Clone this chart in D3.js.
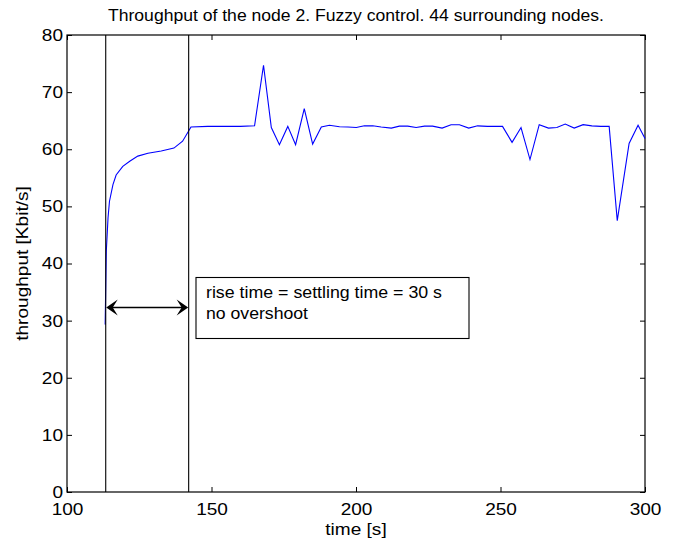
<!DOCTYPE html>
<html><head><meta charset="utf-8">
<script src="https://cdn.jsdelivr.net/npm/d3@7"></script>
<style>body{margin:0;background:#fff}svg{display:block}text{font-family:"Liberation Sans",Arial,sans-serif}</style>
</head><body><svg id="c" width="676" height="543"></svg>
<script>
const title = "Throughput of the node 2. Fuzzy control. 44 surrounding nodes.";
const xLabel = "time [s]";
const yLabel = "throughput [Kbit/s]";
const xTicks = [100, 150, 200, 250, 300];
const yTicks = [0, 10, 20, 30, 40, 50, 60, 70, 80];
const time = [113.2,113.6,114.2,114.7,115.9,117.0,119.3,121.7,124.5,128.0,132.6,137.0,140.0,142.9,148.7,154.0,160.0,164.9,168.0,170.7,173.5,176.4,179.1,182.1,185.0,188.0,190.8,194.3,197.2,200.1,202.9,205.8,208.7,212.2,215.0,217.9,220.8,223.7,226.5,229.8,232.9,235.8,239.0,242.1,245.5,248.0,250.7,254.0,257.1,260.2,263.4,266.6,269.5,272.4,275.5,278.6,281.6,284.7,287.6,290.4,294.5,297.6,300.0];
const throughput = [29.3,42.2,48.0,50.9,53.8,55.5,57.0,57.9,58.8,59.3,59.7,60.2,61.4,63.9,64.0,64.0,64.0,64.1,74.7,63.8,60.8,64.0,60.8,67.1,60.9,63.9,64.2,63.95,63.9,63.8,64.1,64.1,63.9,63.7,64.05,64.05,63.8,64.05,64.05,63.7,64.3,64.3,63.7,64.1,64.0,64.0,64.0,61.2,63.8,58.2,64.3,63.7,63.8,64.4,63.7,64.3,64.1,64.0,64.0,47.5,61.0,64.2,61.9];
const markerTimes = [113.4, 142.1];
const arrowLevel = 32.3;
const noteLines = ["rise time = settling time = 30 s", "no overshoot"];

const svg = d3.select("#c");
const L = 67, R = 645, T = 35, B = 492;
const x = d3.scaleLinear().domain([100, 300]).range([L, R]);
const y = d3.scaleLinear().domain([0, 80]).range([B, T]);
const fs = 17;
const stretch = 1.12;
const FF = '"Liberation Sans",Arial,sans-serif';

// box
svg.append("rect").attr("x", L).attr("y", T).attr("width", R - L).attr("height", B - T)
  .attr("fill", "none").attr("stroke", "#000").attr("stroke-width", 1.2);

// axes
const ax = (g, axis) => { g.call(axis); g.select(".domain").remove(); g.selectAll("line").attr("stroke", "#000"); g.selectAll("text").attr("font-size", fs).attr("fill", "#000").attr("font-family", FF).classed("st", true); };
svg.append("g").attr("transform", `translate(0,${B})`).call(g => ax(g, d3.axisBottom(x).tickValues(xTicks).tickFormat(d3.format("d")).tickSizeInner(-5).tickPadding(11)));
svg.append("g").attr("transform", `translate(0,${T})`).call(g => { ax(g, d3.axisTop(x).tickValues(xTicks).tickSizeInner(-5)); g.selectAll("text").remove(); });
svg.append("g").attr("transform", `translate(${L},0)`).call(g => ax(g, d3.axisLeft(y).tickValues(yTicks).tickFormat(d3.format("d")).tickSizeInner(-5).tickPadding(4)));
svg.append("g").attr("transform", `translate(${R},0)`).call(g => { ax(g, d3.axisRight(y).tickValues(yTicks).tickSizeInner(-5)); g.selectAll("text").remove(); });

// labels
svg.append("text").attr("x", (L + R) / 2).attr("y", 21).attr("text-anchor", "middle").attr("font-size", 16)
  .attr("textLength", 496).attr("lengthAdjust", "spacingAndGlyphs").text(title);
svg.append("text").attr("class", "st").attr("x", (L + R) / 2).attr("y", 535).attr("text-anchor", "middle").attr("font-size", fs).text(xLabel);
svg.append("text").attr("class", "st").attr("transform", `translate(28,${(T + B) / 2}) rotate(-90)`).attr("text-anchor", "middle").attr("font-size", fs).text(yLabel);

// data line
const data = time.map((t, i) => [t, throughput[i]]);
svg.append("path").datum(data).attr("fill", "none").attr("stroke", "#0000ff").attr("stroke-width", 1.1)
  .attr("d", d3.line().x(d => x(d[0])).y(d => y(d[1])));

// marker lines
svg.selectAll(".mk").data(markerTimes).join("line").attr("class", "mk")
  .attr("x1", d => x(d)).attr("x2", d => x(d)).attr("y1", y(80)).attr("y2", y(0))
  .attr("stroke", "#000").attr("stroke-width", 1.1);

// double arrow
const ay = y(arrowLevel), x0 = x(markerTimes[0]), x1 = x(markerTimes[1]);
svg.append("line").attr("x1", x0 + 6).attr("x2", x1 - 6).attr("y1", ay).attr("y2", ay).attr("stroke", "#000").attr("stroke-width", 1.3);
const head = (tip, dir) => {
  const len = 11.5, hw = 8, notch = 6.5;
  return `M${tip},${ay} L${tip + dir * len},${ay - hw} L${tip + dir * notch},${ay} L${tip + dir * len},${ay + hw} Z`;
};
svg.append("path").attr("d", head(x0 + 0.5, 1)).attr("fill", "#000");
svg.append("path").attr("d", head(x1 - 0.5, -1)).attr("fill", "#000");

// note box
svg.append("rect").attr("x", 196).attr("y", 277.5).attr("width", 273).attr("height", 61)
  .attr("fill", "#fff").attr("stroke", "#000").attr("stroke-width", 1.1);
const noteW = [236, 102];
svg.selectAll(".note").data(noteLines).join("text").attr("class", "note")
  .attr("x", 206).attr("y", (d, i) => 297.5 + i * 21).attr("font-size", 16)
  .attr("textLength", (d, i) => noteW[i]).attr("lengthAdjust", "spacingAndGlyphs").text(d => d);

// horizontal stretch of other texts to match the reference glyph widths
svg.selectAll("text.st").each(function () {
  const w = this.getComputedTextLength();
  d3.select(this).attr("textLength", w * stretch).attr("lengthAdjust", "spacingAndGlyphs");
});
</script></body></html>
